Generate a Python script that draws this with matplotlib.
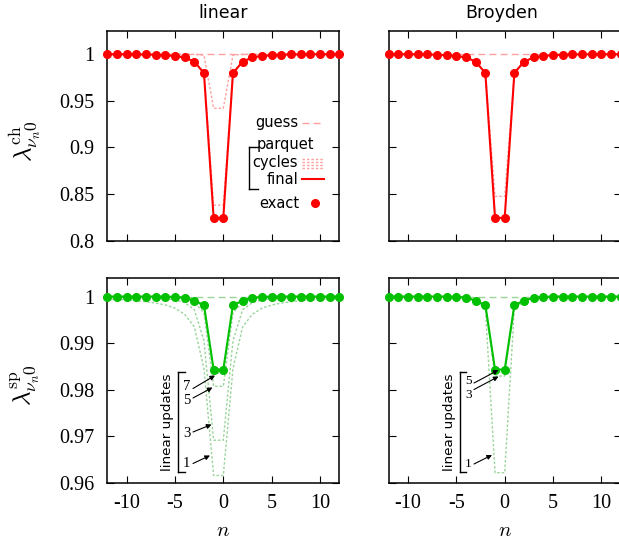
import numpy as np
import matplotlib
matplotlib.use("Agg")
import matplotlib.pyplot as plt
from matplotlib.lines import Line2D

plt.rcParams['font.family'] = ['DejaVu Sans']
plt.rcParams['mathtext.fontset'] = 'cm'

# ---------------- data ----------------
n = list(range(-12, 13))

exact_ch = [1.0000, 1.0000, 1.0000, 0.9999, 0.9998, 0.9995, 0.9990, 0.9982,
            0.9966, 0.9921, 0.9798, 0.8243, 0.8243, 0.9798, 0.9921, 0.9966,
            0.9982, 0.9990, 0.9995, 0.9998, 0.9999, 1.0000, 1.0000, 1.0000, 1.0000]
guess_ch = [1.0] * 25
cycle1_ch_linear = [1.0, 1.0, 1.0, 1.0, 1.0, 1.0, 1.0, 1.0, 1.0, 1.0, 0.9990,
                    0.9420, 0.9420, 0.9990, 1.0, 1.0, 1.0, 1.0, 1.0, 1.0, 1.0,
                    1.0, 1.0, 1.0, 1.0]
cycle2_ch_linear = [1.0000, 1.0000, 1.0000, 0.9999, 0.9998, 0.9995, 0.9990, 0.9983,
                    0.9967, 0.9923, 0.9805, 0.8380, 0.8380, 0.9805, 0.9923, 0.9967,
                    0.9983, 0.9990, 0.9995, 0.9998, 0.9999, 1.0000, 1.0000, 1.0000, 1.0000]
cycle1_ch_broyden = [1.0000, 1.0000, 1.0000, 0.9999, 0.9998, 0.9995, 0.9990, 0.9983,
                     0.9967, 0.9923, 0.9805, 0.8474, 0.8474, 0.9805, 0.9923, 0.9967,
                     0.9983, 0.9990, 0.9995, 0.9998, 0.9999, 1.0000, 1.0000, 1.0000, 1.0000]

exact_sp = [1.0000, 1.0000, 1.0000, 1.0000, 1.0000, 1.0000, 1.0000, 0.9999,
            0.9998, 0.9991, 0.9982, 0.9843, 0.9843, 0.9982, 0.9991, 0.9998,
            0.9999, 1.0000, 1.0000, 1.0000, 1.0000, 1.0000, 1.0000, 1.0000, 1.0000]
guess_sp = [1.0] * 25
upd1_sp_linear = [0.9995, 0.9994, 0.9993, 0.9991, 0.9989, 0.9986, 0.9982, 0.9975,
                  0.9962, 0.9935, 0.9845, 0.9615, 0.9615, 0.9845, 0.9935, 0.9962,
                  0.9975, 0.9982, 0.9986, 0.9989, 0.9991, 0.9993, 0.9994, 0.9995, 0.9996]
upd3_sp_linear = [0.9999, 0.9999, 0.9999, 0.9998, 0.9998, 0.9997, 0.9996, 0.9993,
                  0.9987, 0.9972, 0.9905, 0.9691, 0.9691, 0.9905, 0.9972, 0.9987,
                  0.9993, 0.9996, 0.9997, 0.9998, 0.9998, 0.9999, 0.9999, 0.9999, 0.9999]
upd5_sp_linear = [1.0, 1.0, 1.0, 1.0, 1.0, 1.0, 0.9999, 0.9998,
                  0.9996, 0.9988, 0.9965, 0.9807, 0.9807, 0.9965, 0.9988, 0.9996,
                  0.9998, 0.9999, 1.0, 1.0, 1.0, 1.0, 1.0, 1.0, 1.0]
upd7_sp_linear = [1.0, 1.0, 1.0, 1.0, 1.0, 1.0, 1.0, 0.9999,
                  0.9998, 0.9991, 0.9978, 0.9835, 0.9835, 0.9978, 0.9991, 0.9998,
                  0.9999, 1.0, 1.0, 1.0, 1.0, 1.0, 1.0, 1.0, 1.0]
upd1_sp_broyden = [1.0, 1.0, 1.0, 1.0, 1.0, 1.0, 1.0, 1.0,
                   0.9998, 0.9990, 0.9975, 0.9621, 0.9621, 0.9975, 0.9990, 0.9998,
                   1.0, 1.0, 1.0, 1.0, 1.0, 1.0, 1.0, 1.0, 1.0]
upd3_sp_broyden = [1.0, 1.0, 1.0, 1.0, 1.0, 1.0, 1.0, 0.9999,
                   0.9997, 0.9990, 0.9980, 0.9829, 0.9829, 0.9980, 0.9990, 0.9997,
                   0.9999, 1.0, 1.0, 1.0, 1.0, 1.0, 1.0, 1.0, 1.0]
upd5_sp_broyden = [1.0, 1.0, 1.0, 1.0, 1.0, 1.0, 1.0, 0.9999,
                   0.9998, 0.9991, 0.9981, 0.9837, 0.9837, 0.9981, 0.9991, 0.9998,
                   0.9999, 1.0, 1.0, 1.0, 1.0, 1.0, 1.0, 1.0, 1.0]

xticks = [-10, -5, 0, 5, 10]
xticklabels = ["-10", "-5", "0", "5", "10"]
yticks_ch = [0.8, 0.85, 0.9, 0.95, 1.0]
yticklabels_ch = ["0.8", "0.85", "0.9", "0.95", "1"]
yticks_sp = [0.96, 0.97, 0.98, 0.99, 1.0]
yticklabels_sp = ["0.96", "0.97", "0.98", "0.99", "1"]
titles = ["linear", "Broyden"]

# ---------------- style ----------------
RED = '#ff0000'
RED_L = '#ffa0a0'
GREEN = '#00c000'
GREEN_L = '#9ad49a'
DASH = (0, (5, 3))
DOT = (0, (1.8, 1.4))
SERIF = 'Liberation Serif'

W, H = 619, 550
fig = plt.figure(figsize=(W / 100, H / 100), dpi=100)


def fx(x):
    return x / W


def fy(y):
    return 1 - y / H


lefts = [107.3, 388.7]
wd = 232.0
rows = [(31.0, 240.5), (278.0, 482.5)]

axes = {}
for r, (t, b) in enumerate(rows):
    for c, l in enumerate(lefts):
        ax = fig.add_axes([fx(l), fy(b), wd / W, (b - t) / H])
        axes[(r, c)] = ax
        ax.set_xlim(-12, 12)
        ax.set_xticks(xticks)
        if r == 0:
            ax.set_ylim(0.8, 1.025)
            ax.set_yticks(yticks_ch)
            ax.set_yticklabels(yticklabels_ch if c == 0 else [])
            ax.set_xticklabels([])
        else:
            ax.set_ylim(0.96, 1.004)
            ax.set_yticks(yticks_sp)
            ax.set_yticklabels(yticklabels_sp if c == 0 else [])
            ax.set_xticklabels(xticklabels)
        ax.tick_params(direction='in', top=True, right=True, length=5, width=0.8,
                       labelsize=14.5, pad=9.5, colors='#000000')
        ax.tick_params(axis='x', pad=8.5)
        for lab in ax.get_xticklabels() + ax.get_yticklabels():
            lab.set_fontfamily(SERIF)
        for s in ax.spines.values():
            s.set_linewidth(1.1)

# top-left: linear, ch
ax = axes[(0, 0)]
ax.plot(n, guess_ch, color=RED_L, ls=DASH, lw=1.0)
for cyc in (cycle1_ch_linear, cycle2_ch_linear):
    ax.plot(n, cyc, color=RED_L, ls=DOT, lw=1.0)
ax.plot(n, exact_ch, color=RED, lw=1.5)
ax.plot(n, exact_ch, 'o', color=RED, ms=5.5, clip_on=False, zorder=5)

# top-right: Broyden, ch
ax = axes[(0, 1)]
ax.plot(n, guess_ch, color=RED_L, ls=DASH, lw=1.0)
ax.plot(n, cycle1_ch_broyden, color=RED_L, ls=DOT, lw=1.0)
ax.plot(n, exact_ch, color=RED, lw=1.5)
ax.plot(n, exact_ch, 'o', color=RED, ms=5.5, clip_on=False, zorder=5)

# bottom-left: linear, sp
ax = axes[(1, 0)]
ax.plot(n, guess_sp, color=GREEN_L, ls=DASH, lw=1.0)
for u in (upd1_sp_linear, upd3_sp_linear, upd5_sp_linear, upd7_sp_linear):
    ax.plot(n, u, color=GREEN_L, ls=DOT, lw=1.0)
ax.plot(n, exact_sp, color=GREEN, lw=1.5)
ax.plot(n, exact_sp, 'o', color=GREEN, ms=5.5, clip_on=False, zorder=5)

# bottom-right: Broyden, sp
ax = axes[(1, 1)]
ax.plot(n, guess_sp, color=GREEN_L, ls=DASH, lw=1.0)
for u in (upd1_sp_broyden, upd3_sp_broyden, upd5_sp_broyden):
    ax.plot(n, u, color=GREEN_L, ls=DOT, lw=1.0)
ax.plot(n, exact_sp, color=GREEN, lw=1.5)
ax.plot(n, exact_sp, 'o', color=GREEN, ms=5.5, clip_on=False, zorder=5)

# ---------------- titles and labels ----------------
fig.text(fx(223), fy(13), titles[0], ha='center', va='center', fontsize=12.5)
fig.text(fx(502), fy(13), titles[1], ha='center', va='center', fontsize=12.5)
fig.text(fx(25), fy(141), r'$\lambda^{\mathrm{ch}}_{\nu_n 0}$', rotation=90,
         ha='center', va='center', fontsize=18)
fig.text(fx(25), fy(385), r'$\lambda^{\mathrm{sp}}_{\nu_n 0}$', rotation=90,
         ha='center', va='center', fontsize=18)
fig.text(fx(223), fy(530), r'$n$', ha='center', va='center', fontsize=15)
fig.text(fx(505), fy(530), r'$n$', ha='center', va='center', fontsize=15)

# ---------------- legend (top-left) ----------------
LF = 10.5


def fline(x0, x1, y0, y1, **kw):
    fig.add_artist(Line2D([fx(x0), fx(x1)], [fy(y0), fy(y1)],
                          transform=fig.transFigure, **kw))


fig.text(fx(298), fy(123), 'guess', ha='right', va='center', fontsize=LF)
fline(302, 324, 123, 123, color=RED_L, ls=DASH, lw=1.0)
fig.text(fx(257), fy(145), 'parquet', ha='left', va='center', fontsize=LF)
fig.text(fx(298), fy(162), 'cycles', ha='right', va='center', fontsize=LF)
for yy in (158.5, 161.8, 165.1, 168.4):
    fline(302, 324, yy, yy, color=RED_L, ls=DOT, lw=1.0)
fig.text(fx(298), fy(179), 'final', ha='right', va='center', fontsize=LF)
fline(302, 324, 179, 179, color=RED, lw=1.5)
fig.text(fx(299), fy(203), 'exact', ha='right', va='center', fontsize=LF)
fig.add_artist(Line2D([fx(315)], [fy(203)], transform=fig.transFigure,
                      marker='o', color=RED, ms=5.5, ls='none'))
# bracket
fline(249, 249, 147, 189, color='k', lw=1.0)
fline(249, 258, 147, 147, color='k', lw=1.0)
fline(249, 258, 189, 189, color='k', lw=1.0)


# ---------------- linear updates annotations ----------------
def arrow(x0, y0, x1, y1):
    fig.add_artist(matplotlib.patches.FancyArrowPatch(
        (fx(x0), fy(y0)), (fx(x1), fy(y1)), transform=fig.transFigure,
        arrowstyle='-|>', mutation_scale=7, lw=0.8, color='k',
        shrinkA=0, shrinkB=0))


NF = 10.5
# bottom-left
fline(178, 178, 372, 471.5, color='k', lw=1.0)
fline(178, 185, 372, 372, color='k', lw=1.0)
fline(178, 185, 471.5, 471.5, color='k', lw=1.0)
fig.text(fx(167), fy(422), 'linear updates', rotation=90, ha='center',
         va='center', fontsize=9.7)
for lab, yy in (('7', 387), ('5', 400.5), ('3', 433.5), ('1', 463.5)):
    fig.text(fx(186.5), fy(yy), lab, ha='center', va='center',
             fontsize=NF, fontfamily=SERIF)
arrow(193, 388.5, 215, 375.5)
arrow(193, 398, 212.5, 387.5)
arrow(193, 432, 211.5, 424.5)
arrow(193, 463.5, 210, 455.5)

# bottom-right
fline(460, 460, 372, 471.5, color='k', lw=1.0)
fline(460, 466, 372, 372, color='k', lw=1.0)
fline(460, 466, 471.5, 471.5, color='k', lw=1.0)
fig.text(fx(449.5), fy(422), 'linear updates', rotation=90, ha='center',
         va='center', fontsize=9.7)
for lab, yy in (('5', 381.5), ('3', 394.5), ('1', 464)):
    fig.text(fx(468.5), fy(yy), lab, ha='center', va='center',
             fontsize=9.5, fontfamily=SERIF)
arrow(474, 383, 498.5, 370)
arrow(474, 389.5, 498.5, 376.5)
arrow(474, 464, 492, 455)

fig.savefig('out.png', dpi=100)
